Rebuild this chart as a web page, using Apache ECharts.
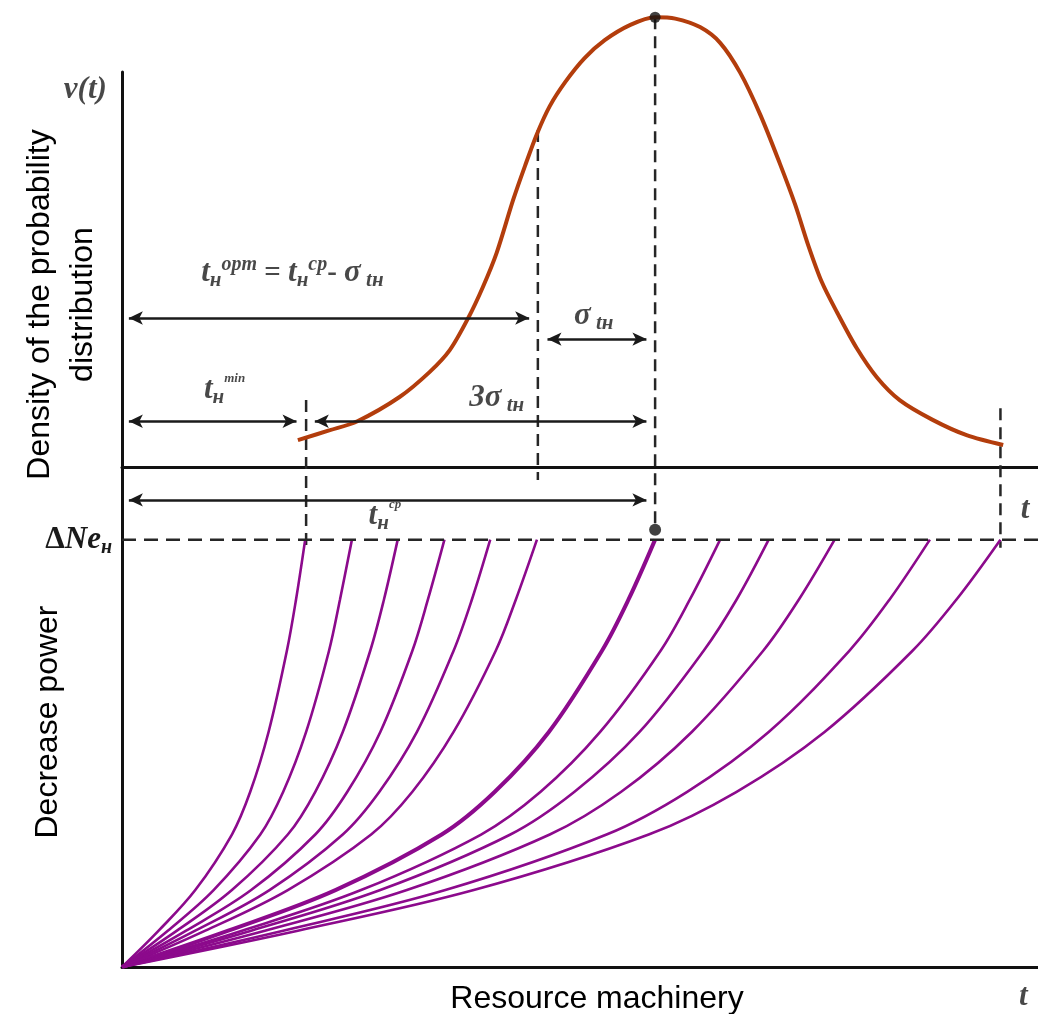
<!DOCTYPE html>
<html>
<head>
<meta charset="utf-8">
<style>
  html, body { margin: 0; padding: 0; background: #fff; }
  #chart { width: 1038px; height: 1014px; }
</style>
<script src="https://cdn.jsdelivr.net/npm/echarts@6/dist/echarts.min.js"></script>
</head>
<body>
<div id="chart"></div>
<script>
// density of the probability distribution v(t)
var densityT = [19.2, 22.7, 25.7, 30.3, 33.6, 35.8, 37.8, 39.4, 40.9, 42.7, 44.0, 45.3, 46.7, 48.4,
                50.5, 52.7, 55.5, 58.2, 60.4, 63.1, 65.3, 67.5, 69.7, 71.8, 73.5, 74.9, 76.4, 78.1,
                80.2, 82.4, 84.9, 88.5, 92.2, 96.2];
var densityV = [6.0, 8.2, 10.2, 15.6, 21.2, 26.1, 33.2, 40.1, 47.7, 59.5, 67.1, 74.2, 80.4, 85.8,
                91.1, 95.1, 98.5, 100.2, 99.9, 98.0, 94.5, 87.8, 78.4, 67.7, 58.4, 49.5, 41.2, 34.3,
                26.5, 20.0, 14.9, 10.5, 7.1, 4.9];

// characteristic times: t min, t opt, t cp, t max
var markerT = [20.1, 45.4, 58.2, 95.9];
var dashTop = [14.9, 75.1, 100.2, 13.1];
var dashBottom = [-18.5, -2.9, -13.6, -18.0];
var peakV = 100.2;

// dimension arrows in the top panel: [from t, to t, level]
var topArrows = [
  [0, 45.2, 33.2],    // t opt
  [45.7, 58.0, 28.5], // sigma
  [0, 19.8, 10.2],    // t min
  [20.3, 58.0, 10.2]  // 3 sigma
];
// arrow in the bottom panel (t cp)
var bottomArrows = [
  [0, 58.0, 109.3]
];

// decrease power curves: level of the power and t where each curve crosses it
var powerLevels = [0, 8.5, 18, 31, 41, 55, 74, 86, 100];
var powerCurves = [
  [0, 4.0, 8.0, 12.0, 14.0, 16.0, 18.0, 19.0, 20.0],
  [0, 5.0, 10.0, 15.1, 17.6, 20.1, 22.6, 23.8, 25.1],
  [0, 6.0, 12.0, 18.1, 21.1, 24.1, 27.1, 28.6, 30.1],
  [0, 7.0, 14.1, 21.1, 24.6, 28.2, 31.7, 33.4, 35.2],
  [0, 8.0, 16.1, 24.1, 28.1, 32.2, 36.2, 38.2, 40.2],
  [0, 9.1, 18.1, 27.2, 31.7, 36.2, 40.8, 43.0, 45.3],
  [0, 11.6, 23.3, 34.9, 40.7, 46.6, 52.4, 55.3, 58.2],
  [0, 13.1, 26.1, 39.2, 45.7, 52.2, 58.8, 62.0, 65.3],
  [0, 14.1, 28.2, 42.4, 49.4, 56.5, 63.5, 67.1, 70.6],
  [0, 15.6, 31.1, 46.7, 54.5, 62.2, 70.0, 73.9, 77.8],
  [0, 17.6, 35.3, 52.9, 61.7, 70.6, 79.4, 83.8, 88.2],
  [0, 19.2, 38.4, 57.5, 67.1, 76.7, 86.3, 91.1, 95.9]
];
var thickCurve = 6;
var deltaNe = 100;
var dotV = 102.3;

// text notes placed at (t, level)
var topNotes = [
  [-4.0, 84.0, '{t|v(t)}'],
  [18.6, 43.2, '{t|t}{sub|н}{sup|opm}{op| = }{t|t}{sub|н}{sup|cp}{op|- }{t|σ}{sub| tн}'],
  [11.2, 17.1, '{t|t}{sub|н}{supS|min}'],
  [40.9, 15.4, '{t|3σ}{sub| tн}'],
  [51.5, 33.6, '{t|σ}{sub| tн}']
];
var bottomNotes = [
  [28.7, 105.5, '{t|t}{sub|н}{supS|cp}'],
  [98.6, 106.9, '{t|t}'],
  [98.4, -7.0, '{t|t}']
];

var SERIF = '"Liberation Serif", "DejaVu Serif", serif';
var SANS = '"Liberation Sans", Arial, sans-serif';
var INK = '#1a1a1a';
var rich = {
  t: { fontFamily: SERIF, fontStyle: 'italic', fontWeight: 'bold', fontSize: 31, lineHeight: 36, color: INK },
  op: { fontFamily: SERIF, fontWeight: 'bold', fontSize: 29, lineHeight: 36, color: INK },
  sub: { fontFamily: SERIF, fontStyle: 'italic', fontWeight: 'bold', fontSize: 21, lineHeight: 22, verticalAlign: 'bottom', color: INK },
  sup: { fontFamily: SERIF, fontStyle: 'italic', fontWeight: 'bold', fontSize: 20, lineHeight: 20, verticalAlign: 'top', color: INK },
  supS: { fontFamily: SERIF, fontStyle: 'italic', fontWeight: 'bold', fontSize: 13, lineHeight: 18, verticalAlign: 'top', color: INK }
};

var chart = echarts.init(document.getElementById('chart'));

var arrowInset = 0.75; // half an arrow head, in t units
function arrowData(list) {
  return list.map(function (a) {
    return [{ coord: [a[0] + arrowInset, a[2]] }, { coord: [a[1] - arrowInset, a[2]] }];
  });
}
function noteData(list) {
  return list.map(function (n) {
    return { value: [n[0], n[1]], label: { formatter: n[2] } };
  });
}
var noteStyle = {
  type: 'scatter', symbolSize: 1, clip: false, silent: true, z: 10,
  itemStyle: { color: 'transparent' },
  label: { show: true, position: 'inside', rich: rich }
};

var series = [];

// vertical dashed guides
markerT.forEach(function (t, i) {
  series.push({
    type: 'line', xAxisIndex: 0, yAxisIndex: 0, clip: false, silent: true,
    symbol: 'none', z: 3,
    lineStyle: { color: '#262626', width: 2.5, type: [12, 7] },
    data: [[t, dashTop[i]], [t, dashBottom[i]]]
  });
});

// density curve
series.push({
  type: 'line', xAxisIndex: 0, yAxisIndex: 0, clip: false, silent: true,
  symbol: 'none', smooth: 0.3, z: 4,
  lineStyle: { color: '#b33d0c', width: 4 },
  data: densityT.map(function (t, i) { return [t, densityV[i]]; }),
  markLine: {
    silent: true, symbol: ['arrow', 'arrow'], symbolSize: [10, 14],
    label: { show: false },
    lineStyle: { color: INK, width: 2.5, type: 'solid' },
    data: arrowData(topArrows)
  }
});
series.push({
  type: 'scatter', xAxisIndex: 0, yAxisIndex: 0, clip: false, silent: true, z: 6,
  symbolSize: 11, itemStyle: { color: '#111' },
  data: [[markerT[2], peakV]]
});
series.push(Object.assign({ xAxisIndex: 0, yAxisIndex: 0, data: noteData(topNotes) }, noteStyle));

// decrease power curves
powerCurves.forEach(function (xs, i) {
  series.push({
    type: 'line', xAxisIndex: 1, yAxisIndex: 2, silent: true,
    symbol: 'none', smooth: 0.35, z: 4,
    lineStyle: { color: '#8c0a8c', width: i === thickCurve ? 4 : 2.6 },
    data: xs.map(function (x, j) { return [x, powerLevels[j]]; })
  });
});

// ΔNe level
series.push({
  type: 'line', xAxisIndex: 1, yAxisIndex: 2, silent: true, symbol: 'none', z: 5,
  lineStyle: { color: '#262626', width: 2.5, type: [14, 8] },
  data: [[0, deltaNe], [100, deltaNe]],
  markLine: {
    silent: true, symbol: ['arrow', 'arrow'], symbolSize: [10, 14],
    label: { show: false },
    lineStyle: { color: INK, width: 2.5, type: 'solid' },
    data: arrowData(bottomArrows)
  }
});
series.push({
  type: 'scatter', xAxisIndex: 1, yAxisIndex: 2, clip: false, silent: true, z: 6,
  symbolSize: 12, itemStyle: { color: '#111' },
  data: [[markerT[2], dotV]]
});
series.push(Object.assign({ xAxisIndex: 1, yAxisIndex: 2, data: noteData(bottomNotes) }, noteStyle));

var axisLine = { show: true, lineStyle: { color: '#111', width: 3 } };
var hidden = { show: false };

var option = {
  animation: false,
  backgroundColor: '#fff',
  grid: [
    { left: 122, right: 0, top: 72, bottom: 547, containLabel: false, outerBoundsMode: 'none' },
    { left: 122, right: 0, top: 467, bottom: 47, containLabel: false, outerBoundsMode: 'none' }
  ],
  xAxis: [
    { gridIndex: 0, type: 'value', min: 0, max: 100, axisLine: axisLine,
      axisTick: hidden, axisLabel: hidden, splitLine: hidden },
    { gridIndex: 1, type: 'value', min: 0, max: 100, axisLine: axisLine,
      axisTick: hidden, axisLabel: hidden, splitLine: hidden,
      name: 'Resource machinery', nameLocation: 'middle', nameGap: 12,
      nameTextStyle: { fontFamily: SANS, fontSize: 32, lineHeight: 40, color: '#000', padding: [0, 0, 0, 34] } }
  ],
  yAxis: [
    { gridIndex: 0, type: 'value', min: 0, max: 88, axisLine: axisLine,
      axisTick: hidden, axisLabel: hidden, splitLine: hidden },
    { gridIndex: 0, type: 'value', min: 0, max: 88, position: 'left',
      axisLine: hidden, axisTick: hidden, axisLabel: hidden, splitLine: hidden,
      name: 'Density of the probability\ndistribution', nameLocation: 'middle', nameGap: 17,
      nameTextStyle: { fontFamily: SANS, fontSize: 32, lineHeight: 43, color: '#000', padding: [0, 70, 0, 0] } },
    { gridIndex: 1, type: 'value', min: 0, max: 117, interval: 100, axisLine: axisLine,
      axisTick: hidden, splitLine: hidden,
      axisLabel: {
        margin: 10,
        formatter: function (v) { return v === deltaNe ? '{d|Δ}{n|Ne}{s|н}' : ''; },
        rich: {
          d: { fontFamily: SERIF, fontWeight: 'bold', fontSize: 31, lineHeight: 36, color: INK },
          n: { fontFamily: SERIF, fontWeight: 'bold', fontStyle: 'italic', fontSize: 31, lineHeight: 36, color: INK },
          s: { fontFamily: SERIF, fontWeight: 'bold', fontStyle: 'italic', fontSize: 20, lineHeight: 24, verticalAlign: 'bottom', color: INK }
        }
      },
      name: 'Decrease power', nameLocation: 'middle', nameGap: 52, nameMoveOverlap: false,
      nameTextStyle: { fontFamily: SANS, fontSize: 32, lineHeight: 43, color: '#000', padding: [0, 10, 0, 0] } }
  ],
  series: series
};

chart.setOption(option);
</script>
</body>
</html>
